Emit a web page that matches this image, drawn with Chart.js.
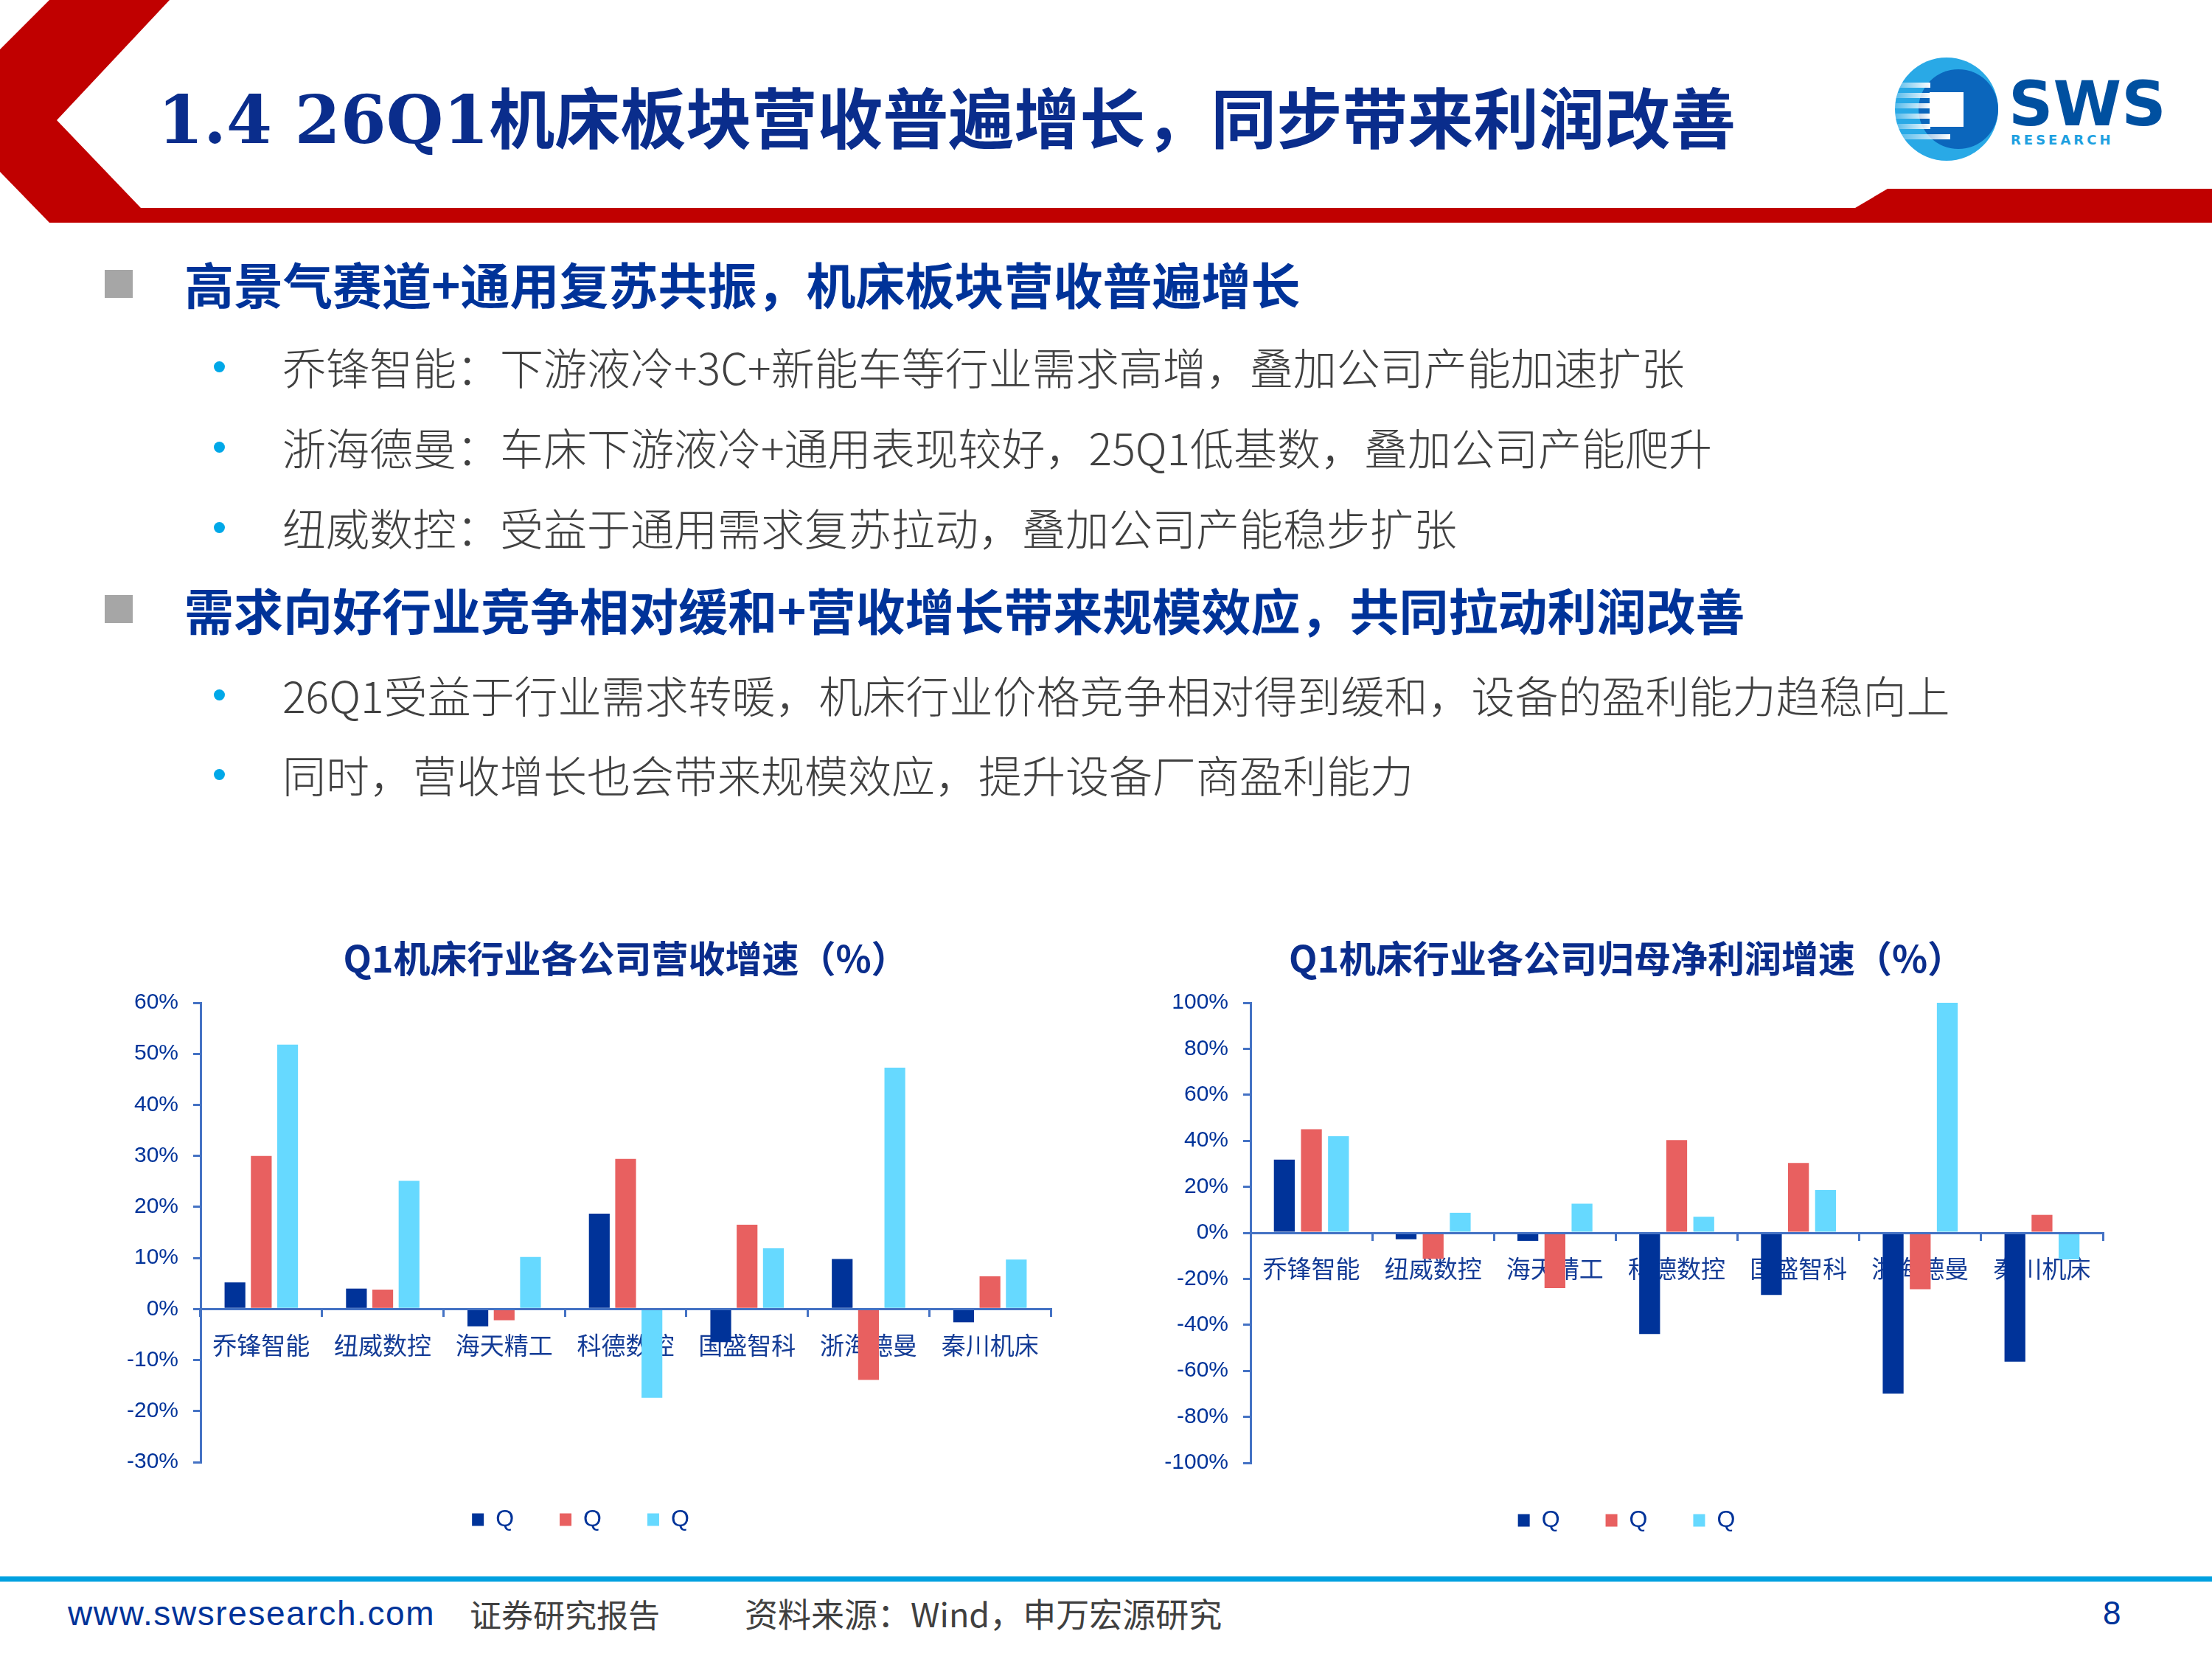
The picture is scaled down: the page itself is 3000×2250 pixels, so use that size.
<!DOCTYPE html>
<html>
<head>
<meta charset="utf-8">
<script src="https://cdn.jsdelivr.net/npm/chart.js@4.4.0/dist/chart.umd.min.js"></script>
<style>
  html, body { margin: 0; padding: 0; background: #fff; }
  body { width: 3000px; height: 2250px; position: relative; overflow: hidden;
         font-family: "Noto Sans CJK SC", "Liberation Sans", sans-serif; }
  .abs { position: absolute; white-space: nowrap; }
  .h1 { color: #003399; font-weight: 700; font-size: 67px; height: 80px; line-height: 80px; left: 250px; }
  .sq { width: 38px; height: 38px; background: #A6A6A6; left: 142px; }
  .sub { color: #404040; font-size: 59px; font-weight: 300; height: 80px; line-height: 80px; left: 383px; }
  .dot { width: 15px; height: 15px; border-radius: 50%; background: #00A8E8; left: 290px; }
  .foot { height: 60px; line-height: 60px; top: 2158px; }
  canvas { position: absolute; }
</style>
</head>
<body>

<!-- 页眉 -->
<svg class="abs" style="left:0;top:0" width="3000" height="310">
  <polygon fill="#C00000" points="67,0 230,0 77,163 191,282 2516,282 2560,256 3000,256 3000,302 67,302 0,233 0,67"/>
  <defs>
    <linearGradient id="stripe" x1="0" x2="1" y1="0" y2="0">
      <stop offset="0" stop-color="#ffffff" stop-opacity="0.2"/>
      <stop offset="1" stop-color="#ffffff" stop-opacity="1"/>
    </linearGradient>
  </defs>
  <circle cx="2640" cy="148" r="70" fill="#29A9E6"/>
  <circle cx="2656" cy="148" r="54" fill="#0B66BC"/>
  <rect x="2570" y="112" width="48" height="7" fill="url(#stripe)"/>
  <rect x="2570" y="126" width="48" height="7" fill="url(#stripe)"/>
  <rect x="2570" y="140" width="48" height="7" fill="url(#stripe)"/>
  <rect x="2570" y="154" width="48" height="7" fill="url(#stripe)"/>
  <rect x="2570" y="168" width="48" height="7" fill="url(#stripe)"/>
  <rect x="2575" y="182" width="70" height="7" fill="url(#stripe)"/>
  <rect x="2617" y="125" width="46" height="47" fill="#ffffff"/>
  <text x="2724" y="170" font-family="DejaVu Sans" font-weight="bold" font-size="84" fill="#0050A0">SWS</text>
  <text x="2727" y="196" font-family="DejaVu Sans" font-weight="bold" font-size="18" letter-spacing="4" fill="#1EA0E0">RESEARCH</text>
</svg>
<div class="abs" style="left:214px;top:113px;height:100px;line-height:100px;font-size:89px;font-weight:700;color:#0A2D8C;font-family:'DejaVu Serif','Noto Sans CJK SC',serif;">1.4 26Q1机床板块营收普遍增长，同步带来利润改善</div>

<!-- 正文 -->
<div class="abs sq" style="top:366px"></div>
<div class="abs h1" style="top:344px">高景气赛道+通用复苏共振，机床板块营收普遍增长</div>
<div class="abs dot" style="top:490px"></div>
<div class="abs sub" style="top:457px">乔锋智能：下游液冷+3C+新能车等行业需求高增，叠加公司产能加速扩张</div>
<div class="abs dot" style="top:599px"></div>
<div class="abs sub" style="top:566px">浙海德曼：车床下游液冷+通用表现较好，25Q1低基数，叠加公司产能爬升</div>
<div class="abs dot" style="top:708px"></div>
<div class="abs sub" style="top:675px">纽威数控：受益于通用需求复苏拉动，叠加公司产能稳步扩张</div>
<div class="abs sq" style="top:807px"></div>
<div class="abs h1" style="top:786px">需求向好行业竞争相对缓和+营收增长带来规模效应，共同拉动利润改善</div>
<div class="abs dot" style="top:935px"></div>
<div class="abs sub" style="top:902px">26Q1受益于行业需求转暖，机床行业价格竞争相对得到缓和，设备的盈利能力趋稳向上</div>
<div class="abs dot" style="top:1043px"></div>
<div class="abs sub" style="top:1010px">同时，营收增长也会带来规模效应，提升设备厂商盈利能力</div>

<canvas id="revChart" width="1290" height="837" style="left:150px;top:1250px"></canvas>
<canvas id="profitChart" width="1300" height="838" style="left:1560px;top:1250px"></canvas>

<!-- 页脚 -->
<div class="abs" style="left:0;top:2138px;width:3000px;height:7px;background:#00A0E0"></div>
<div class="abs foot" style="left:92px;font-family:'Liberation Sans',sans-serif;font-size:46px;letter-spacing:1.6px;color:#003399">www.swsresearch.com</div>
<div class="abs foot" style="left:637px;font-size:43px;color:#404040">证券研究报告</div>
<div class="abs foot" style="left:1010px;font-size:45px;color:#404040">资料来源：Wind，申万宏源研究</div>
<div class="abs foot" style="left:2852px;font-family:'Liberation Sans',sans-serif;font-size:44px;color:#003399">8</div>

<script>
// 公司
const companies = ['乔锋智能', '纽威数控', '海天精工', '科德数控', '国盛智科', '浙海德曼', '秦川机床'];
const seriesNames = ['Q', 'Q', 'Q'];
const seriesColors = ['#003399', '#E86060', '#66D9FF'];

// 营收增速（%）
const revenueA = [5.2, 4.0, -3.4, 18.7, -6.5, 9.8, -2.6];
const revenueB = [30.0, 3.8, -2.2, 29.4, 16.5, -13.9, 6.4];
const revenueC = [51.8, 25.1, 10.2, -17.4, 11.9, 47.3, 9.7];

// 归母净利润增速（%）
const profitA = [31.8, -2.8, -3.5, -44.0, -27.0, -69.9, -56.0];
const profitB = [45.0, -11.3, -24.0, 40.3, 30.4, -24.5, 7.8];
const profitC = [42.0, 8.7, 12.7, 7.0, 18.6, 100, -11.5];

Chart.defaults.font.family = "'Liberation Sans', 'Noto Sans CJK SC', sans-serif";
const axisBlue = '#4472C4';

/**
 * 柱状图生成
 */
function makeBarChart(id, title, series, yMin, yMax, step, yWidth, padRight, titleFull, catPct, barPct) {
  const ctx = document.getElementById(id);
  return new Chart(ctx, {
    type: 'bar',
    data: {
      labels: companies,
      datasets: series.map((s, i) => ({
        label: seriesNames[i],
        data: s,
        backgroundColor: seriesColors[i],
        categoryPercentage: catPct,
        barPercentage: barPct
      }))
    },
    options: {
      responsive: false,
      animation: false,
      devicePixelRatio: 1,
      layout: { padding: { left: 0, right: padRight, top: 0, bottom: 0 } },
      plugins: {
        title: {
          display: true,
          text: title,
          fullSize: titleFull,
          color: '#0A2D8C',
          font: { family: "'Noto Sans CJK SC', sans-serif", size: 50, weight: 'bold' },
          padding: { top: 20, bottom: 30 }
        },
        legend: {
          display: true,
          position: 'bottom',
          labels: {
            boxWidth: 16,
            boxHeight: 17,
            padding: 62,
            color: '#003399',
            font: { size: 32 }
          }
        },
        tooltip: { enabled: false }
      },
      scales: {
        x: {
          position: { y: 0 },
          offset: true,
          grid: {
            offset: true,
            drawOnChartArea: false,
            drawTicks: true,
            tickLength: 9,
            color: axisBlue,
            lineWidth: 3
          },
          border: { display: true, color: axisBlue, width: 3, z: 1 },
          ticks: {
            autoSkip: false,
            maxRotation: 0,
            padding: 20,
            color: '#143C96',
            font: { family: "'Noto Sans CJK SC', sans-serif", size: 33 }
          }
        },
        y: {
          min: yMin,
          max: yMax,
          afterFit: (s) => { s.width = yWidth; },
          grid: {
            drawOnChartArea: false,
            drawTicks: true,
            tickLength: 10,
            color: axisBlue,
            lineWidth: 3
          },
          border: { display: true, color: axisBlue, width: 3 },
          ticks: {
            stepSize: step,
            padding: 20,
            color: '#003399',
            font: { size: 30 },
            callback: (v) => v + '%'
          }
        }
      }
    }
  });
}

makeBarChart('revChart', 'Q1机床行业各公司营收增速（%）',
  [revenueA, revenueB, revenueC], -30, 60, 10, 122, 15, false, 0.65, 0.79);
makeBarChart('profitChart', 'Q1机床行业各公司归母净利润增速（%）',
  [profitA, profitB, profitC], -100, 100, 20, 136, 8, true, 0.667, 0.77);
</script>
</body>
</html>
